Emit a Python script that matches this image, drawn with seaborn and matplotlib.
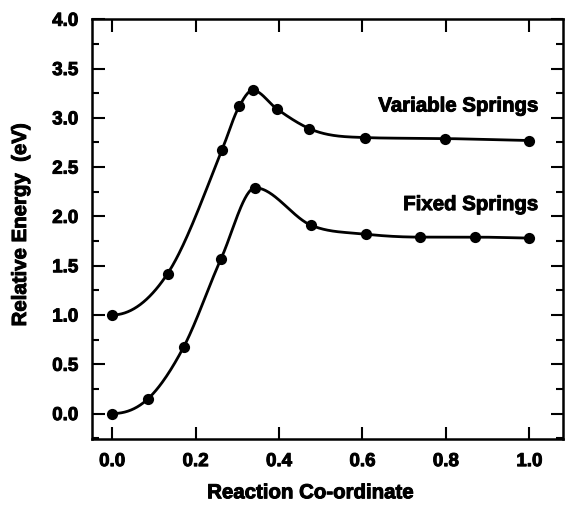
import numpy as np
import pandas as pd
import matplotlib
matplotlib.use("Agg")
import matplotlib.pyplot as plt
import matplotlib.patheffects as pe
import seaborn as sns
from matplotlib.ticker import MultipleLocator

# Data
var_x = [0.0, 0.133, 0.263, 0.305, 0.337, 0.395, 0.473, 0.605, 0.797, 0.998]
var_y = [1.00, 1.42, 2.67, 3.12, 3.28, 3.09, 2.89, 2.80, 2.79, 2.77]
fix_x = [0.0, 0.086, 0.172, 0.261, 0.343, 0.477, 0.608, 0.739, 0.869, 1.0]
fix_y = [0.00, 0.15, 0.68, 1.57, 2.29, 1.91, 1.82, 1.79, 1.79, 1.78]
labels = ["Variable Springs", "Fixed Springs"]
xticks = [0.0, 0.2, 0.4, 0.6, 0.8, 1.0]
yticks = [0.0, 0.5, 1.0, 1.5, 2.0, 2.5, 3.0, 3.5, 4.0]


def smooth(x, y, n=400):
    """Smooth Hermite curve through the data points (drawing style only)."""
    x = np.asarray(x, float)
    y = np.asarray(y, float)
    h = np.diff(x)
    d = np.diff(y) / h
    m = np.zeros_like(y)
    for k in range(1, len(x) - 1):
        if d[k - 1] * d[k] > 0:
            m[k] = (h[k] * d[k - 1] + h[k - 1] * d[k]) / (h[k - 1] + h[k])
            m[k] = np.sign(m[k]) * min(abs(m[k]), 3 * min(abs(d[k - 1]), abs(d[k])))
    m[0] = 0.0 if abs(d[0]) > 1 else d[0]
    m[-1] = d[-1]
    xs = np.linspace(x[0], x[-1], n)
    idx = np.clip(np.searchsorted(x, xs) - 1, 0, len(x) - 2)
    t = (xs - x[idx]) / h[idx]
    h00 = 2 * t**3 - 3 * t**2 + 1
    h10 = t**3 - 2 * t**2 + t
    h01 = -2 * t**3 + 3 * t**2
    h11 = t**3 - t**2
    ys = h00 * y[idx] + h10 * h[idx] * m[idx] + h01 * y[idx + 1] + h11 * h[idx] * m[idx + 1]
    return xs, ys


sns.set_theme(style="ticks")
plt.rcParams['font.family'] = ['Liberation Sans', 'DejaVu Sans']
plt.rcParams['font.weight'] = 'bold'
plt.rcParams['text.color'] = 'black'
plt.rcParams['axes.labelcolor'] = 'black'
plt.rcParams['xtick.color'] = 'black'
plt.rcParams['ytick.color'] = 'black'

heavy = [pe.withStroke(linewidth=0.7, foreground="black")]

fig = plt.figure(figsize=(5.65, 5.06), dpi=100)
ax = fig.add_axes([0.163, 0.130, 0.833, 0.830])

pts = pd.concat([
    pd.DataFrame({"x": var_x, "y": var_y, "s": labels[0]}),
    pd.DataFrame({"x": fix_x, "y": fix_y, "s": labels[1]}),
])
curves = []
for lab, xx, yy in [(labels[0], var_x, var_y), (labels[1], fix_x, fix_y)]:
    cx, cy = smooth(xx, yy)
    curves.append(pd.DataFrame({"x": cx, "y": cy, "s": lab}))
curves = pd.concat(curves)

sns.lineplot(data=curves, x="x", y="y", units="s", estimator=None, color="black",
             linewidth=2.0, ax=ax, sort=False)
sns.scatterplot(data=pts, x="x", y="y", color="black", s=65, edgecolor="black",
                linewidth=0, ax=ax, zorder=3)

ax.text(1.02, 3.12, labels[0], ha="right", va="center", fontsize=14.7,
        fontweight="bold", path_effects=heavy)
ax.text(1.02, 2.12, labels[1], ha="right", va="center", fontsize=14.7,
        fontweight="bold", path_effects=heavy)

ax.set_xlim(-0.048, 1.08)
ax.set_ylim(-0.26, 4.0)
ax.set_xticks(xticks)
ax.set_yticks(yticks)
ax.set_xticklabels([f"{v:.1f}" for v in xticks])
ax.set_yticklabels([f"{v:.1f}" for v in yticks])
ax.yaxis.set_minor_locator(MultipleLocator(0.25))
ax.tick_params(which="both", direction="in", top=True, right=True, width=1.5,
               labelsize=13.5, colors="black")
ax.tick_params(axis="x", pad=10)
ax.tick_params(axis="y", pad=10)
ax.tick_params(which="major", length=9)
ax.tick_params(which="minor", length=5)
for sp in ax.spines.values():
    sp.set_linewidth(1.8)
    sp.set_color("black")
    sp.set_visible(True)

ax.set_xlabel("Reaction Co-ordinate", fontsize=14.7, fontweight="bold",
              path_effects=heavy)
ax.xaxis.set_label_coords(0.463, -0.105)
ax.set_ylabel("Relative Energy  (eV)", fontsize=14.7, fontweight="bold",
              path_effects=heavy)
ax.yaxis.set_label_coords(-0.132, 0.51)
for lab in ax.get_xticklabels() + ax.get_yticklabels():
    lab.set_fontweight("bold")
    lab.set_path_effects(heavy)

fig.savefig("out.png", dpi=100)
